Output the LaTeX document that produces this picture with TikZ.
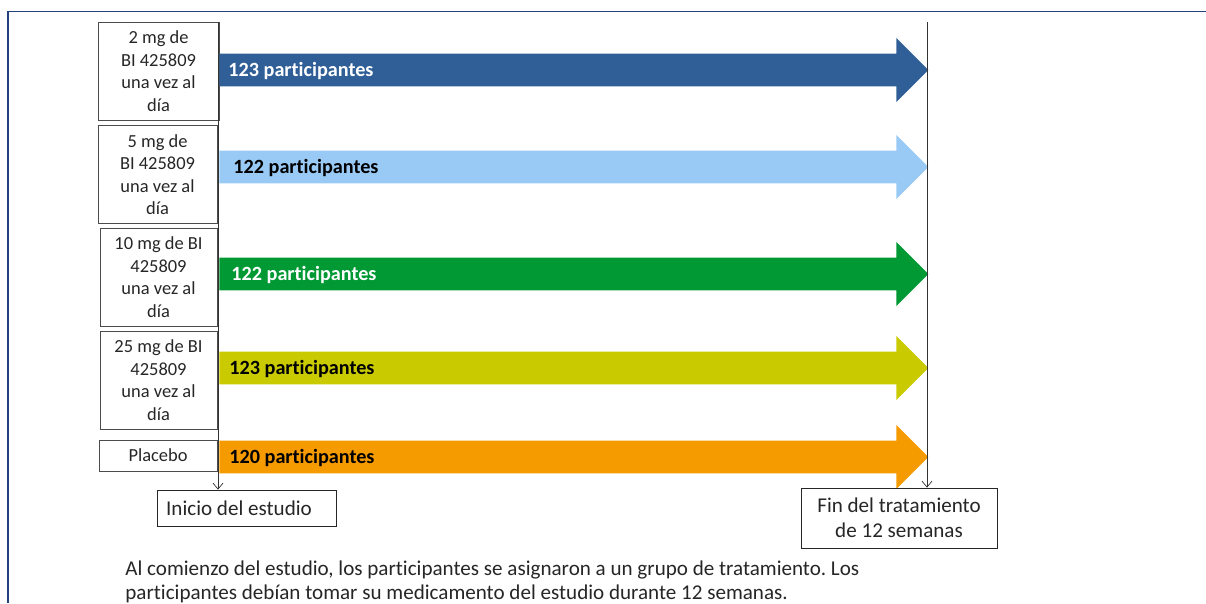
\documentclass[tikz,border=0pt]{standalone}
\usepackage{fontspec}
\setmainfont{Carlito}[Ligatures=NoCommon]
\frenchspacing
\usetikzlibrary{positioning,shapes.arrows,arrows.meta}

\definecolor{frameblue}{HTML}{22407E}
\definecolor{armA}{HTML}{2F5F96}
\definecolor{armB}{HTML}{99C9F5}
\definecolor{armC}{HTML}{009933}
\definecolor{armD}{HTML}{C9CA00}
\definecolor{armE}{HTML}{F59B00}
\definecolor{txt}{HTML}{262626}

\begin{document}
\begin{tikzpicture}[x=0.02cm, y=-0.02cm, text=txt]
			% styles
			\tikzstyle{dose} = [rectangle, draw=black!70, align=center, inner sep=0pt, minimum width=2.36cm, minimum height=1.96cm, font=\fontsize{10.5}{12.8}\selectfont]
			\tikzstyle{bar} = [single arrow, single arrow head extend=0.31cm, minimum width=1.26cm, minimum height=14.18cm, inner xsep=0pt, inner ysep=0.32cm, anchor=west, draw=none]
			\tikzstyle{count} = [inner sep=0pt, anchor=west, yshift=-0.02cm, font=\fontsize{11.5}{13}\selectfont\bfseries]
			\tikzstyle{milestone} = [rectangle, draw=black!85, align=center, font=\fontsize{12}{14.2}\selectfont]
			\tikzstyle{guide} = [draw=black!80, -{Straight Barb[length=0.12cm,width=0.2cm]}]
			
			\useasboundingbox (0,0) rectangle (1206,603);
			% frame
			\draw[frameblue, line width=0.9pt] (8,603) -- (8,11.5) -- (1206,11.5);
			
			% dose boxes
			\node [dose, minimum width=2.42cm] (d2) at (158.5,71) {2 mg de\\BI 425809\\una vez al\\día};
			\node [dose, minimum width=2.38cm] (d5) at (157.5,174.5) {5 mg de\\BI 425809\\una vez al\\día};
			\node [dose, minimum width=2.34cm] (d10) at (158.5,277) {10 mg de BI\\425809\\una vez al\\día};
			\node [dose, minimum width=2.34cm] (d25) at (158.5,380) {25 mg de BI\\425809\\una vez al\\día};
			\node [dose, minimum height=0.62cm, minimum width=2.36cm] (plac) at (158,455.5) {Placebo};
			
			% arrows
			\node [bar, fill=armA] (a2) at (219,70) {};
			\node [bar, fill=armB] (a5) at (219,167) {};
			\node [bar, fill=armC] (a10) at (219,274) {};
			\node [bar, fill=armD] (a25) at (219,368) {};
			\node [bar, fill=armE] (aplac) at (219,457) {};
			\node [count, text=white, right=0.18cm of a2.west] (n2) {123 participantes};
			\node [count, text=black, right=0.28cm of a5.west] (n5) {122 participantes};
			\node [count, text=white, right=0.24cm of a10.west] (n10) {122 participantes};
			\node [count, text=black, right=0.2cm of a25.west] (n25) {123 participantes};
			\node [count, text=black, right=0.2cm of aplac.west] (nplac) {120 participantes};
			
			% start and end
			\node [milestone, minimum width=3.58cm, minimum height=0.72cm] (start) at (246.5,508) {Inicio del estudio\hspace{0.3cm}};
			\node [milestone, minimum width=3.92cm, minimum height=1.2cm] (stop) at (899,518) {Fin del tratamiento\\de 12 semanas};
			\coordinate (top start) at (218,22);
			\coordinate (top stop) at (927,22);
			\draw [guide] (top start) -- (top start |- start.north);
			\draw [guide] (top stop) -- (top stop |- stop.north);
			
			\node [anchor=north west, inner sep=0pt, align=left, font=\fontsize{12}{14.2}\selectfont] (note) at (125,560) {Al comienzo del estudio, los participantes se asignaron a un grupo de tratamiento. Los\\participantes debían tomar su medicamento del estudio durante 12 semanas.};
		\end{tikzpicture}
\end{document}
